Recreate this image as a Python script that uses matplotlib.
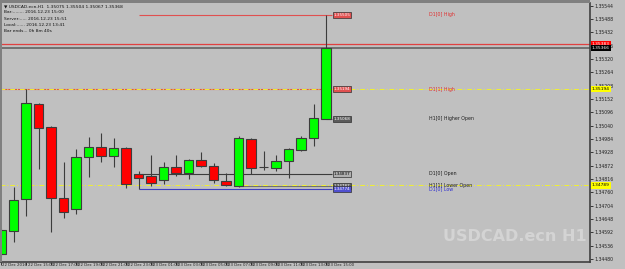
import matplotlib.pyplot as plt
import matplotlib.transforms as mtransforms

# -------------------------------------------------
# Data: USDCAD.ecn H1 candles (22 Dec 13:00 .. 23 Dec 15:00)
# -------------------------------------------------
opens = [1.34501, 1.34598, 1.34732, 1.35131, 1.35034, 1.34736, 1.34690, 1.34908, 1.34950,
         1.34913, 1.34946, 1.34837, 1.34829, 1.34812, 1.34866, 1.34841, 1.34896, 1.34871,
         1.34808, 1.34787, 1.34984, 1.34866, 1.34862, 1.34892, 1.34938, 1.34988, 1.35068]
highs = [1.34610, 1.34782, 1.35194, 1.35135, 1.35039, 1.34887, 1.34942, 1.34992, 1.35009,
         1.34988, 1.34950, 1.34850, 1.34917, 1.34887, 1.34917, 1.34900, 1.34929, 1.34883,
         1.34841, 1.34997, 1.34988, 1.34934, 1.34917, 1.34946, 1.34997, 1.35131, 1.35505]
lows = [1.34493, 1.34551, 1.34661, 1.34858, 1.34593, 1.34652, 1.34669, 1.34824, 1.34887,
        1.34866, 1.34778, 1.34774, 1.34787, 1.34795, 1.34829, 1.34816, 1.34866, 1.34799,
        1.34787, 1.34782, 1.34837, 1.34854, 1.34850, 1.34820, 1.34934, 1.34955, 1.35067]
closes = [1.34602, 1.34728, 1.35135, 1.35030, 1.34736, 1.34677, 1.34908, 1.34950, 1.34913,
          1.34946, 1.34795, 1.34820, 1.34799, 1.34866, 1.34841, 1.34896, 1.34871, 1.34812,
          1.34791, 1.34988, 1.34862, 1.34866, 1.34892, 1.34942, 1.34988, 1.35072, 1.35366]

time_labels = ["22 Dec 2016", "22 Dec 15:00", "22 Dec 17:00", "22 Dec 19:00", "22 Dec 21:00",
               "22 Dec 23:00", "23 Dec 01:00", "23 Dec 03:00", "23 Dec 05:00", "23 Dec 07:00",
               "23 Dec 09:00", "23 Dec 11:00", "23 Dec 13:00", "23 Dec 15:00"]

price_ticks = ["1.34480", "1.34536", "1.34592", "1.34648", "1.34704", "1.34760", "1.34816",
               "1.34872", "1.34928", "1.34984", "1.35040", "1.35096", "1.35152", "1.35208",
               "1.35264", "1.35320", "1.35376", "1.35432", "1.35488", "1.35544"]

# levels drawn by the indicator
level_names = ["D1[0] High", "D1[1] High", "H1[0] Higher Open", "D1[0] Open",
               "H1[1] Lower Open", "D1[0] Low"]
level_prices = [1.35505, 1.35194, 1.35068, 1.34837, 1.34787, 1.34774]
level_start = [11, -1, 26, 11, 19, 11]

ask_price = 1.35383
bid_price = closes[-1]
yellow_levels = [1.35194, 1.34789]

info_lines = ["\u25bc USDCAD.ecn,H1  1.35075 1.35504 1.35067 1.35368",
              "Bar:........ 2016.12.23 15:00",
              "Server:..... 2016.12.23 15:51",
              "Local:...... 2016.12.23 13:41",
              "Bar ends... 0h 8m 40s"]

# -------------------------------------------------
# Figure
# -------------------------------------------------
BG = "#c0c0c0"
fig = plt.figure(figsize=(6.25, 2.69), dpi=100, facecolor=BG)
ax = fig.add_axes([0 / 625, 7 / 269, 590 / 625, 259 / 269], facecolor=BG)

n = len(opens)
xs = list(range(n))
ax.set_xlim(-0.08, 47.12)
ax.set_ylim(1.344674, 1.355552)

# candles
for i in xs:
    o, h, l, c = opens[i], highs[i], lows[i], closes[i]
    ax.vlines(i, l, h, color="#3c3c3c", lw=0.8, zorder=3)
    col = "#00ff00" if c >= o else "#ff0000"
    bottom = min(o, c)
    height = max(abs(c - o), 0.000012)
    ax.bar(i, height, bottom=bottom, width=0.78, color=col,
           edgecolor="#3c3c3c", linewidth=0.8, zorder=4)

# level lines and their boxes
line_cols = ["#e05050", "#e05050", "#5a5a5a", "#3c3c3c", "#707070", "#4040c0"]
box_fill = ["#e05050", "#e05050", "#5a5a5a", "#b0b0b0", "#606060", "#5050d0"]
box_text = ["white", "white", "white", "black", "white", "white"]
name_cols = ["#e03030", "#e03030", "#202020", "#202020", "#202020", "#3030d0"]
for name, p, s, lc, bf, bt, nc in zip(level_names, level_prices, level_start,
                                      line_cols, box_fill, box_text, name_cols):
    ax.hlines(p, s, 26.5, color=lc, lw=0.8, zorder=2)
    ax.text(26.6, p, f"{p:.5f}", fontsize=3.0, color=bt, va="center", ha="left",
            bbox=dict(boxstyle="square,pad=0.15", fc=bf, ec="#303030", lw=0.5), zorder=6)
    ax.text(34.2, p, name, fontsize=3.4, color=nc, va="center", ha="left", zorder=6)

# ask / bid lines
ax.axhline(ask_price, color="#e04040", lw=0.9, zorder=2)
ax.axhline(bid_price, color="#6a6a6a", lw=1.3, zorder=2)

# yellow dash-dot lines
for p in yellow_levels:
    ax.axhline(p, color="#f0f030", lw=0.7, ls=(0, (5, 2, 1, 2)), zorder=2)

# price boxes on the right scale
ytrans = mtransforms.blended_transform_factory(ax.transAxes, ax.transData)
scale_boxes = [(ask_price, "#ff0000", "white"), (bid_price, "#000000", "white"),
               (yellow_levels[0], "#ffff00", "black"), (yellow_levels[1], "#ffff00", "black")]
for p, fc, tc in scale_boxes:
    ax.text(1.003, p, f"{p:.5f}", transform=ytrans, fontsize=3.2, color=tc,
            va="center", ha="left", clip_on=False, zorder=7,
            bbox=dict(boxstyle="square,pad=0.25", fc=fc, ec="none"))

# axes styling
for side in ["left", "top"]:
    ax.spines[side].set_visible(False)
ax.spines["right"].set_color("#404040")
ax.spines["bottom"].set_color("#404040")
ax.spines["right"].set_linewidth(1.2)
ax.spines["bottom"].set_linewidth(1.2)

ax.yaxis.tick_right()
tick_vals = [float(t) for t in price_ticks]
ax.set_yticks(tick_vals)
ax.set_yticklabels(price_ticks)
ax.tick_params(axis="y", labelsize=3.3, length=2, width=0.6, pad=1.5,
               colors="#202020")

ax.set_xticks(list(range(0, n, 2)))
ax.set_xticklabels(time_labels, ha="left")
ax.tick_params(axis="x", labelsize=2.8, length=2.5, width=0.6, pad=-1.6,
               colors="#202020", direction="out")
offset = mtransforms.ScaledTranslation(1.5 / 100, 0, fig.dpi_scale_trans)
for lbl in ax.get_xticklabels():
    lbl.set_transform(lbl.get_transform() + offset)

# top and left borders
fig.add_artist(plt.Rectangle((0, 1 - 3 / 269), 590 / 625, 3 / 269,
                             transform=fig.transFigure, color="#808080", lw=0))
fig.add_artist(plt.Rectangle((0, 7 / 269), 2 / 625, 259 / 269,
                             transform=fig.transFigure, color="#808080", lw=0))

# info text top-left
for k, line in enumerate(info_lines):
    fig.text(4 / 625, 1 - (6 + k * 6.3) / 269, line, fontsize=3.2, color="#101010",
             va="center", ha="left")

# watermark
fig.text(587 / 625, 1 - 241 / 269, "USDCAD.ecn H1", fontsize=11.5, fontweight="bold",
         family="DejaVu Sans", color="#d4d4d4", ha="right", va="baseline", zorder=1)

fig.savefig("out.png", dpi=100, facecolor=BG)
